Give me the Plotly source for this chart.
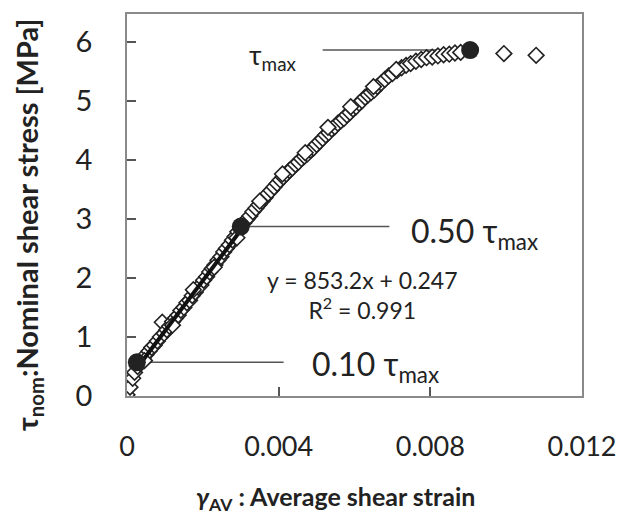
import plotly.graph_objects as go

# ---- data ----
strain = [0.00000, 0.00008, 0.00015, 0.00020, 0.00028, 0.00035, 0.00042, 0.00050, 0.00058, 0.00065,
          0.00072, 0.00080, 0.00088, 0.00093, 0.00098, 0.00105, 0.00112, 0.00120, 0.00128, 0.00135,
          0.00142, 0.00150, 0.00158, 0.00165, 0.00172, 0.00180, 0.00188, 0.00195, 0.00202, 0.00210,
          0.00218, 0.00225, 0.00232, 0.00240, 0.00248, 0.00255, 0.00262, 0.00270, 0.00278, 0.00285,
          0.00292, 0.00300, 0.00308, 0.00316, 0.00324, 0.00332, 0.00340, 0.00348, 0.00356, 0.00364,
          0.00372, 0.00380, 0.00388, 0.00396, 0.00404, 0.00412, 0.00420, 0.00428, 0.00436, 0.00444,
          0.00452, 0.00460, 0.00468, 0.00476, 0.00484, 0.00492, 0.00500, 0.00508, 0.00516, 0.00524,
          0.00532, 0.00540, 0.00548, 0.00556, 0.00564, 0.00572, 0.00580, 0.00588, 0.00596, 0.00604,
          0.00612, 0.00620, 0.00628, 0.00636, 0.00644, 0.00652, 0.00660, 0.00670, 0.00680, 0.00690,
          0.00700, 0.00712, 0.00724, 0.00736, 0.00748, 0.00762, 0.00776, 0.00790, 0.00805, 0.00820,
          0.00835, 0.00850, 0.00865, 0.00880, 0.00994, 0.01079,
          0.00046, 0.00120, 0.00175, 0.00230, 0.00290, 0.00350, 0.00410, 0.00470, 0.00530, 0.00590,
          0.00650, 0.00710]
stress = [0.02, 0.15, 0.30, 0.40, 0.50, 0.55, 0.63, 0.70, 0.76, 0.82,
          0.86, 0.93, 1.00, 1.25, 1.06, 1.12, 1.18, 1.26, 1.32, 1.37,
          1.45, 1.50, 1.58, 1.62, 1.70, 1.76, 1.84, 1.88, 1.96, 2.02,
          2.10, 2.16, 2.22, 2.30, 2.36, 2.44, 2.50, 2.56, 2.64, 2.70,
          2.78, 2.86, 2.93, 2.99, 3.05, 3.12, 3.18, 3.24, 3.30, 3.36,
          3.43, 3.48, 3.54, 3.60, 3.66, 3.71, 3.76, 3.82, 3.86, 3.92,
          3.96, 4.02, 4.06, 4.10, 4.16, 4.20, 4.26, 4.31, 4.36, 4.42,
          4.46, 4.52, 4.56, 4.62, 4.66, 4.70, 4.76, 4.80, 4.86, 4.90,
          4.96, 5.00, 5.06, 5.10, 5.14, 5.18, 5.24, 5.30, 5.36, 5.42,
          5.46, 5.51, 5.56, 5.60, 5.63, 5.67, 5.70, 5.73, 5.74, 5.76,
          5.78, 5.79, 5.81, 5.82, 5.80, 5.77,
          0.60, 1.20, 1.80, 2.18, 2.68, 3.30, 3.76, 4.12, 4.55, 4.90,
          5.24, 5.53]

key_strain = [0.00026, 0.00300, 0.00905]      # 0.10 tau_max, 0.50 tau_max, tau_max
key_stress = [0.57, 2.87, 5.86]
key_labels = ["0.10 τ<sub>max</sub>", "0.50 τ<sub>max</sub>", "τ<sub>max</sub>"]
leader_end = [0.00413, 0.00692, 0.00516]       # far end of each leader line

fit_slope = 853.2
fit_intercept = 0.247
fit_text = "y = 853.2x + 0.247<br>R<sup>2</sup> = 0.991"

x_ticks = [0, 0.004, 0.008, 0.012]
x_ticktext = ["0", "0.004", "0.008", "0.012"]
y_ticks = [0, 1, 2, 3, 4, 5, 6]

FONT = "Lato"
TXT = "#222222"

fig = go.Figure()

# leader lines
for xs, ys, xe in zip(key_strain, key_stress, leader_end):
    fig.add_trace(go.Scatter(x=[xs, xe], y=[ys, ys], mode="lines",
                             line=dict(color="#555555", width=1.5),
                             showlegend=False, hoverinfo="skip"))

# measured points
fig.add_trace(go.Scatter(x=strain, y=stress, mode="markers",
                         marker=dict(symbol="diamond", size=12, color="white",
                                     line=dict(color="#222222", width=1.6)),
                         showlegend=False))

# linear fit between 0.10 and 0.50 tau_max
fx = [key_strain[0], key_strain[1]]
fy = [fit_slope * v + fit_intercept for v in fx]
fig.add_trace(go.Scatter(x=fx, y=fy, mode="lines",
                         line=dict(color="#111111", width=4),
                         showlegend=False, hoverinfo="skip"))

# key points
fig.add_trace(go.Scatter(x=key_strain, y=key_stress, mode="markers",
                         marker=dict(symbol="circle", size=18, color="#222222"),
                         showlegend=False))

# labels
fig.add_annotation(x=leader_end[0], y=key_stress[0], text=key_labels[0],
                   xanchor="left", yanchor="middle", xshift=26, yshift=-4,
                   showarrow=False, font=dict(family=FONT, size=32, color=TXT))
fig.add_annotation(x=leader_end[1], y=key_stress[1], text=key_labels[1],
                   xanchor="left", yanchor="middle", xshift=20, yshift=-6,
                   showarrow=False, font=dict(family=FONT, size=32, color=TXT))
fig.add_annotation(x=leader_end[2], y=key_stress[2], text=key_labels[2],
                   xanchor="right", yanchor="middle", xshift=-24, yshift=-6,
                   showarrow=False, font=dict(family=FONT, size=27, color=TXT))
fig.add_annotation(x=0.00622, y=1.71, text=fit_text, xanchor="center", yanchor="middle",
                   showarrow=False, align="center",
                   font=dict(family=FONT, size=23, color=TXT))

# axis titles
fig.add_annotation(x=0, y=0.5, xref="paper", yref="paper", xshift=-99, yshift=-20,
                   xanchor="center", yanchor="middle",
                   text="<b>τ<sub>nom</sub>:Nominal shear stress [MPa]</b>",
                   textangle=-90, showarrow=False,
                   font=dict(family=FONT, size=29, color=TXT))
fig.add_annotation(x=0.5, y=0, xref="paper", yref="paper", xshift=-19, yshift=-102,
                   xanchor="center", yanchor="middle",
                   text="<b><i>γ</i><sub>AV</sub> : Average shear strain</b>",
                   showarrow=False,
                   font=dict(family=FONT, size=25, color=TXT))

axis_common = dict(showline=True, mirror=True, linecolor="#8a8a8a", linewidth=1.5,
                   showgrid=False, zeroline=False, ticks="inside", ticklen=9,
                   tickcolor="#555555", tickwidth=1.5)

fig.update_xaxes(range=[0, 0.012], tickvals=x_ticks, ticktext=x_ticktext,
                 ticklabelstandoff=26, ticklabeloverflow="allow",
                 tickfont=dict(family=FONT, size=27, color=TXT), **axis_common)
fig.update_yaxes(range=[0, 6.47], tickvals=y_ticks, ticklabelstandoff=27,
                 tickfont=dict(family=FONT, size=29, color=TXT), **axis_common)

fig.update_layout(width=629, height=515,
                  margin=dict(l=127, r=37, t=13, b=119),
                  plot_bgcolor="white", paper_bgcolor="white",
                  showlegend=False)

fig.write_html("out.html")
